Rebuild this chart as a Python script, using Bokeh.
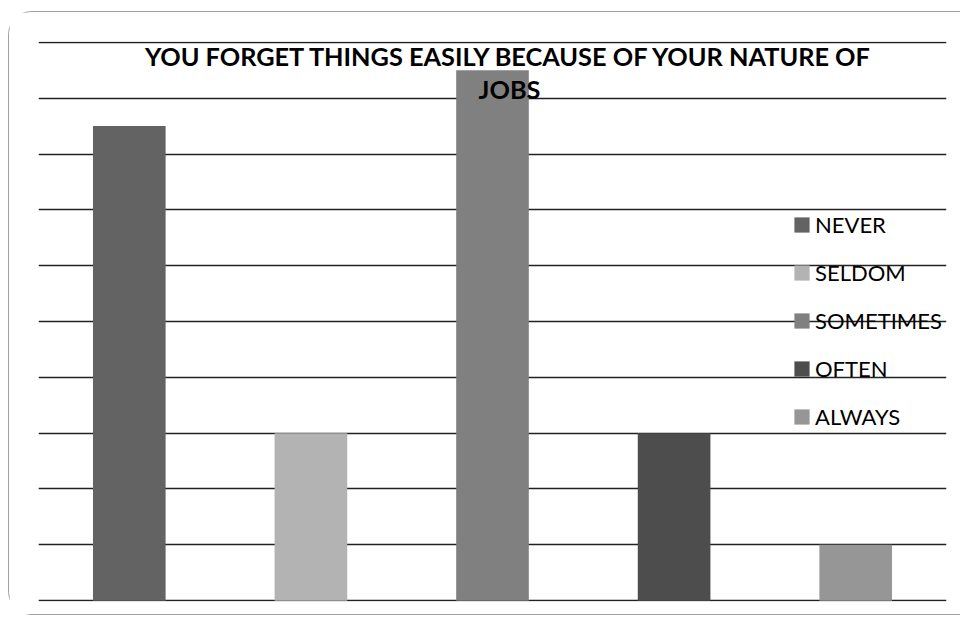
from bokeh.plotting import figure
from bokeh.models import ColumnDataSource, Range1d, FactorRange, FixedTicker, Label, Grid
from bokeh.embed import file_html
from bokeh.resources import INLINE

categories = ["NEVER", "SELDOM", "SOMETIMES", "OFTEN", "ALWAYS"]
counts = [17, 6, 19, 6, 2]
colors = ["#636363", "#b3b3b3", "#808080", "#4d4d4d", "#969696"]
grid_ticks = [0, 2, 4, 6, 8, 10, 12, 14, 16, 18, 20]
title_lines = ["YOU FORGET THINGS EASILY BECAUSE OF YOUR NATURE OF", "JOBS"]

src = ColumnDataSource(dict(cat=categories, count=counts, color=colors))

p = figure(width=952, height=604,
           x_range=FactorRange(*categories), y_range=Range1d(-0.03, 20.03),
           x_axis_location=None, y_axis_location=None,
           output_backend="svg", toolbar_location=None,
           min_border_left=29, min_border_right=15,
           min_border_top=29, min_border_bottom=15)
p.outline_line_color = None
p.background_fill_color = "white"
p.border_fill_color = "white"
p.styles = {"margin-left": "8px", "margin-top": "11px",
            "border-left": "1px solid #a0a0a0", "border-top": "1px solid #a0a0a0",
            "border-bottom": "1px solid #a0a0a0",
            "border-top-left-radius": "24px", "border-bottom-left-radius": "24px"}

# drop default grids, add our own horizontal one
p.center = [r for r in p.center if not isinstance(r, Grid)]
grid = Grid(dimension=1, ticker=FixedTicker(ticks=grid_ticks),
            grid_line_color="#222222", grid_line_width=1.5)
p.add_layout(grid)

p.vbar(x="cat", top="count", width=0.4, fill_color="color", line_color=None,
       source=src, legend_field="cat")

lg = p.legend[0]
lg.location = (754, 171)
lg.padding = 0
lg.margin = 0
lg.spacing = 21
lg.label_height = 24
lg.glyph_height = 19
lg.glyph_width = 19
lg.label_standoff = 4
lg.label_text_font = "Lato"
lg.label_text_font_size = "22px"
lg.label_text_color = "#000000"
lg.background_fill_alpha = 0
lg.border_line_alpha = 0

for txt, yy in zip(title_lines, [546, 513]):
    p.add_layout(Label(x=471, y=yy, x_units="screen", y_units="screen", text=txt,
                       text_align="center", text_baseline="middle",
                       text_font="Lato", text_font_style="bold",
                       text_font_size="25.3px", text_color="#000000"))

open("out.html", "w").write(file_html(p, INLINE))
